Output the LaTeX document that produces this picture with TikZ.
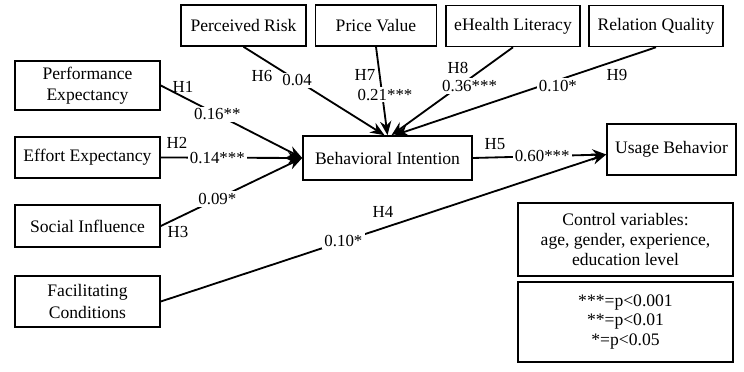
\documentclass[tikz,border=0pt]{standalone}
\usepackage{fontspec}
\setmainfont{Liberation Serif}
\usepackage{tikz}
\usetikzlibrary{arrows.meta}

\begin{document}
\begin{tikzpicture}[x=0.025cm,y=-0.025cm,>={Stealth[length=10pt,width=8pt]},
      var/.style={draw,line width=1.1pt,align=center,inner sep=2pt,minimum height=1.025cm,font=\fontsize{12.5}{15}\selectfont},
      note/.style={var,minimum width=5.375cm,font=\fontsize{12.5}{14}\selectfont},
      coef/.style={fill=white,inner sep=1.5pt,font=\fontsize{12}{14}\selectfont},
      hyp/.style={inner sep=0pt,font=\fontsize{12}{14}\selectfont},
      rel/.style={->,line width=1.3pt}]
    \useasboundingbox (0,0) rectangle (744,372);
    \node[var,minimum width=3.125cm] (pr) at (243.5,25.5) {Perceived Risk};
    \node[var,minimum width=3.025cm] (pv) at (376,25.5) {Price Value};
    \node[var,minimum width=3.35cm] (el) at (513,26) {eHealth Literacy};
    \node[var,minimum width=3.35cm] (rq) at (656,26) {Relation Quality};
    \node[var,minimum width=3.625cm,minimum height=1.225cm] (pe) at (87.5,85.5) {Performance\\Expectancy};
    \node[var,minimum width=3.625cm] (ee) at (87.5,157.5) {Effort Expectancy};
    \node[var,minimum width=3.625cm,minimum height=1.05cm] (si) at (87.5,226) {Social Influence};
    \node[var,minimum width=3.625cm,minimum height=1.275cm] (fc) at (87.5,301.5) {Facilitating\\Conditions};
    \node[var,minimum width=4.225cm,minimum height=1.1cm] (bi) at (387.5,158) {Behavioral Intention};
    \node[var,minimum width=3.225cm,minimum height=1.275cm] (ub) at (671.5,149.5) {Usage Behavior};
    \node[note,minimum height=1.825cm] (cv) at (625.5,239.5) {Control variables:\\age, gender, experience,\\education level};
    \node[note,minimum height=2cm] (ps) at (625.5,322) {***=p<0.001\\**=p<0.01\\*=p<0.05};
    \draw[rel] (pe.east) -- node[coef,pos=0.4] (c1) {0.16**} (bi.west);
    \draw[rel] (ee.east) -- node[coef,pos=0.4] (c2) {0.14***} (bi.west);
    \draw[rel] (si.east) -- node[coef,pos=0.4] (c3) {0.09*} (bi.west);
    \draw[rel] (fc.east) -- node[coef,pos=0.41] (c4) {0.10*} ([yshift=-0.125cm]ub.west);
    \draw[rel] (bi.east) -- node[coef,pos=0.52] (c5) {0.60***} ([yshift=-0.125cm]ub.west);
    \draw[rel] (pr.south) -- node[coef,pos=0.38] (c6) {0.04} ([xshift=-0.075cm]bi.north);
    \draw[rel] (pv.south) -- node[coef,pos=0.54,xshift=0.07cm] (c7) {0.21***} (bi.north);
    \draw[rel] (el.south) -- node[coef,pos=0.44,xshift=0.25cm] (c8) {0.36***} ([xshift=0.1cm]bi.north);
    \draw[rel] (rq.south) -- node[coef,pos=0.375,yshift=-0.15cm] (c9) {0.10*} ([xshift=0.175cm]bi.north);
    \node[hyp] (h1) at (183,87) {H1};
    \node[hyp] (h2) at (177,143) {H2};
    \node[hyp] (h3) at (178,232) {H3};
    \node[hyp] (h4) at (383,212) {H4};
    \node[hyp] (h5) at (495,144) {H5};
    \node[hyp] (h6) at (262,76) {H6};
    \node[hyp] (h7) at (365,75) {H7};
    \node[hyp] (h8) at (458,68) {H8};
    \node[hyp] (h9) at (617,75) {H9};
  \end{tikzpicture}
\end{document}
